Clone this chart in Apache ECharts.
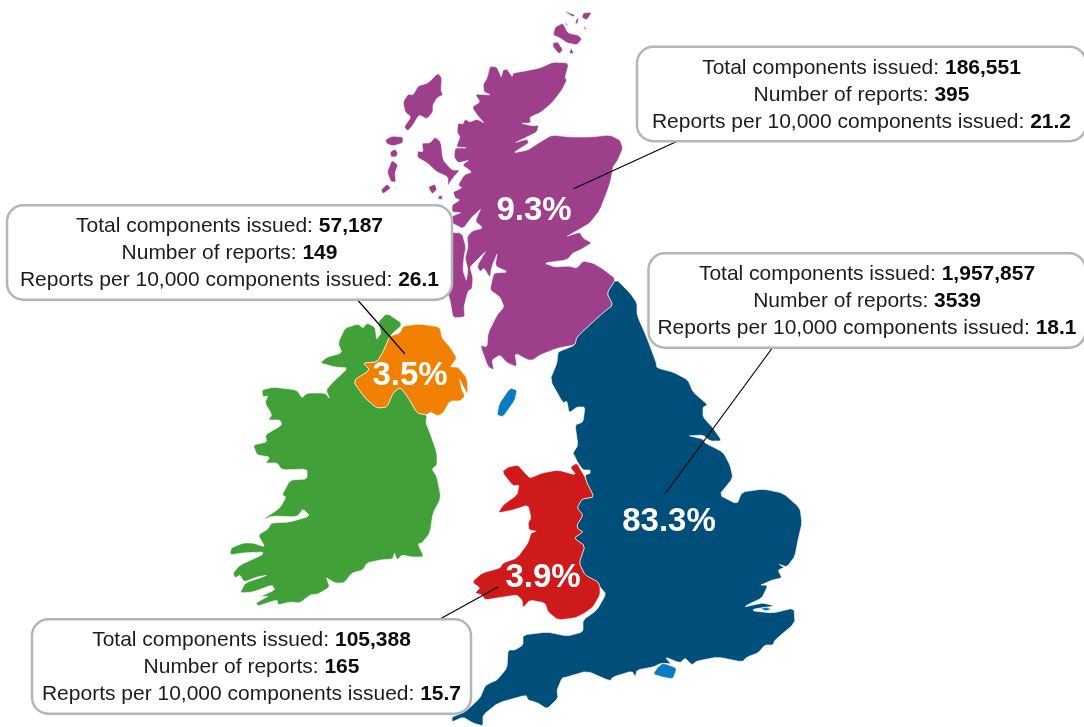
<!DOCTYPE html>
<html><head><meta charset="utf-8">
<style>html,body{margin:0;padding:0;background:#fff}#c{width:1084px;height:727px}</style>
<script src="https://cdn.jsdelivr.net/npm/echarts@6/dist/echarts.min.js"></script></head>
<body><div id="c"></div>
<script>
// ---- values
const nations = ['Scotland','Northern Ireland','England','Wales'];
const shares = [9.3, 3.5, 83.3, 3.9];
const totals = ['186,551','57,187','1,957,857','105,388'];
const reports = ['395','149','3539','165'];
const rates = ['21.2','26.1','18.1','15.7'];
// ---- region colours
const colours = {Scotland:'#9E3F8C','Northern Ireland':'#F18000',England:'#004F7B',Wales:'#CE1A1A',Ireland:'#41A038',Isles:'#0A7AC2'};
// ---- annotation anchors, in the map's coordinates
const shareAnchors = [[534,211],[410,376],[669,522],[543,578]];
const boxAnchors = [[861.5,94],[229.5,252.5],[867,300.5],[251.5,666.5]];
const boxWidths = [446.5,442.5,434.5,436.5];
const leaders = [[[680,140],[573,189]],[[355,297],[405,354]],[[773,347],[665,494]],[[498,587],[440,619]]];
// ---- outlines (map geometry)
const scotlandMain = [[553,62],[540,68],[525,71],[513,73],[512,77],[507,69],[503,70],[501,78],[497,67],[490,66],[487,78],[483,85],[484,92],[491,95],[475,94],[480,102],[472,107],[477,115],[485,124],[477,119],[470,122],[465,119],[463,124],[458,123],[457,132],[460,137],[456,147],[468,148],[455,148],[454,157],[458,163],[470,160],[462,165],[472,172],[464,175],[458,185],[462,188],[453,192],[455,198],[460,200],[452,205],[452,212],[462,213],[452,216],[452,223],[463,229],[472,217],[482,208],[475,221],[483,228],[472,231],[467,237],[468,247],[465,258],[468,270],[466,282],[463,270],[464,257],[466,247],[462,233],[445,232],[445,285],[450,300],[453,318],[465,317],[464,307],[468,291],[472,289],[473,278],[470,267],[475,262],[487,250],[477,266],[480,272],[484,268],[490,278],[492,266],[498,252],[495,266],[508,272],[494,273],[492,280],[490,290],[500,297],[504,307],[497,315],[488,333],[487,347],[480,345],[488,367],[494,370],[492,360],[500,355],[507,363],[517,367],[515,353],[528,360],[533,360],[540,355],[558,348],[575,345],[577,337],[593,322],[603,313],[613,305],[607,293],[616,279],[603,269],[593,263],[583,261],[577,268],[568,266],[555,267],[544,263],[567,260],[573,253],[580,250],[592,243],[583,238],[580,232],[565,237],[580,229],[590,223],[600,210],[607,192],[611,180],[613,167],[618,160],[623,148],[620,140],[610,135],[590,137],[570,137],[552,135],[540,142],[528,150],[513,153],[529,143],[527,139],[514,143],[527,137],[537,132],[539,124],[533,126],[520,123],[531,123],[530,117],[540,113],[552,103],[562,90],[567,80],[565,78],[569,63]];
const scotlandIslands = [
 [[438,73],[442,78],[441,90],[443,95],[437,98],[433,105],[433,112],[427,119],[419,115],[413,125],[408,131],[404,127],[411,117],[405,112],[403,102],[408,94],[413,95],[418,86],[428,83]],
 [[385,140],[392,136],[403,137],[403,143],[393,146],[387,144]],
 [[390,152],[395,149],[398,153],[396,157],[391,157]],
 [[392,160],[398,165],[395,173],[396,182],[391,182],[387,172]],
 [[387,184],[391,188],[383,194],[381,190]],
 [[435,137],[441,142],[443,160],[452,170],[460,170],[453,178],[447,187],[448,177],[437,172],[427,163],[417,157],[418,150],[423,152],[422,143],[430,143]],
 [[428,187],[435,184],[437,190],[432,194]],
 [[439,195],[443,196],[442,200],[438,199]],
 [[555,27],[563,23],[568,33],[578,35],[582,39],[577,45],[567,43],[560,38],[553,35]],
 [[553,42],[558,42],[563,50],[559,54],[553,47]],
 [[572,47],[574,55],[569,53]],
 [[565,11],[575,15],[573,17],[567,13]],
 [[583,13],[592,12],[587,20],[582,18]],
 [[577,18],[579,18],[577,25],[575,23]],
 [[564,22],[568,24],[567,26]],
 [[583,25],[587,29],[585,30]]
];
const ireland = [[403,324],[390,336],[383,352],[377,362],[363,363],[370,370],[353,381],[365,398],[377,408],[387,407],[393,393],[400,387],[408,397],[417,413],[427,415],[426,423],[430,433],[437,453],[437,465],[432,469],[437,477],[441,498],[433,513],[430,533],[422,543],[418,544],[424,557],[412,557],[402,555],[397,560],[394,552],[393,559],[380,560],[367,563],[363,570],[352,573],[344,583],[335,583],[325,577],[330,587],[318,594],[310,595],[300,603],[290,602],[278,605],[277,600],[267,603],[258,606],[256,603],[270,595],[258,597],[275,590],[272,585],[253,592],[240,593],[245,583],[268,575],[257,577],[244,582],[240,575],[235,578],[233,573],[240,565],[262,555],[263,552],[243,553],[230,555],[231,548],[243,543],[253,543],[265,547],[258,535],[268,529],[271,523],[290,522],[310,516],[303,509],[297,517],[273,516],[262,520],[280,508],[286,497],[282,495],[290,480],[307,479],[307,469],[282,470],[277,463],[270,463],[265,463],[270,457],[257,455],[253,445],[267,442],[265,435],[282,425],[280,420],[268,420],[272,415],[265,403],[268,395],[262,397],[262,390],[273,387],[297,390],[302,398],[307,393],[325,393],[330,399],[326,390],[333,382],[348,368],[335,367],[320,363],[327,357],[342,353],[338,343],[345,328],[358,324],[363,328],[367,323],[375,327],[377,341],[381,333],[378,322],[387,313]];
const northernIreland = [[390,336],[400,333],[403,326],[420,324],[440,327],[442,338],[450,347],[457,358],[450,367],[458,367],[467,378],[468,392],[467,394],[463,386],[459,378],[462,390],[465,396],[460,401],[450,401],[443,413],[438,416],[430,412],[427,415],[417,413],[408,397],[400,387],[393,393],[387,407],[377,408],[365,398],[353,381],[370,370],[363,363],[377,362],[383,352]];
const england = [[616,279],[630,293],[637,303],[637,315],[647,338],[656,362],[657,368],[673,372],[688,380],[693,392],[708,405],[703,407],[703,417],[713,428],[722,441],[710,441],[703,435],[687,436],[703,439],[705,443],[723,452],[730,465],[733,478],[719,495],[737,504],[742,492],[763,489],[783,493],[800,508],[802,523],[798,540],[795,556],[787,567],[778,564],[785,568],[778,570],[782,578],[772,580],[759,586],[768,585],[762,598],[747,605],[745,607],[753,605],[763,603],[775,606],[754,609],[753,611],[773,613],[794,608],[795,623],[775,640],[773,645],[765,645],[758,653],[747,657],[742,662],[718,657],[697,661],[692,665],[685,658],[680,663],[665,657],[672,665],[662,663],[653,667],[637,670],[635,678],[632,671],[613,677],[610,681],[587,671],[567,677],[562,678],[557,690],[558,698],[547,709],[538,703],[528,700],[526,695],[498,703],[483,715],[483,726],[473,723],[463,717],[452,722],[452,717],[465,712],[480,698],[485,686],[490,683],[497,680],[507,668],[508,650],[515,650],[523,645],[523,635],[547,632],[567,636],[583,632],[583,620],[597,610],[606,594],[600,587],[598,582],[585,575],[579,563],[585,546],[574,538],[583,532],[578,529],[577,525],[583,515],[577,508],[582,499],[594,497],[587,483],[585,475],[591,473],[590,470],[583,470],[578,463],[574,455],[573,453],[578,445],[575,425],[583,422],[585,407],[577,407],[569,413],[567,401],[563,403],[550,380],[557,363],[558,352],[563,350],[575,345],[577,337],[593,322],[603,313],[613,305],[607,293]];
const wales = [[570,467],[577,463],[582,472],[585,477],[587,483],[594,497],[582,499],[577,508],[583,515],[577,525],[578,529],[583,532],[574,538],[585,546],[579,563],[585,575],[598,582],[600,587],[600,595],[593,607],[585,613],[575,618],[558,620],[548,612],[545,603],[530,600],[523,608],[522,600],[517,595],[503,597],[485,600],[482,595],[475,593],[480,588],[472,582],[482,573],[500,568],[503,563],[517,558],[528,543],[531,533],[537,531],[529,530],[528,523],[531,518],[528,505],[513,510],[498,513],[503,505],[517,495],[519,485],[513,486],[502,472],[508,467],[518,465],[525,473],[530,478],[542,473],[558,470],[576,475]];
const isles = [
 [[497,415],[499,404],[510,388],[517,390],[515,400],[503,417]],
 [[653,674],[658,667],[663,663],[677,668],[673,679],[662,677]],
 [[760,608],[767,607],[772,610],[765,611]]
];
// soften the traced corners slightly so the coastlines read as curves
const soften = ring => ring.flatMap((p,i)=>{
  const a = ring[(i+ring.length-1)%ring.length], b = ring[(i+1)%ring.length], k = 0.15;
  return [[p[0]+(a[0]-p[0])*k,p[1]+(a[1]-p[1])*k],[p[0]+(b[0]-p[0])*k,p[1]+(b[1]-p[1])*k]];
});
const feature = (name, rings) => ({type:'Feature',properties:{name},geometry:{type:'MultiPolygon',coordinates:rings.map(r=>[soften(r)])}});
echarts.registerMap('isles',{type:'FeatureCollection',features:[
  feature('Ireland',[ireland]),
  feature('Scotland',[scotlandMain,...scotlandIslands]),
  feature('England',[england]),
  feature('Wales',[wales]),
  feature('Northern Ireland',[northernIreland]),
  feature('Isles',isles)
]});
const font = '"Liberation Sans", Arial, sans-serif';
const chart = echarts.init(document.getElementById('c'),null,{renderer:'canvas'});
chart.setOption({
  animation:false,
  backgroundColor:'#fff',
  geo:{
    map:'isles',left:0,top:0,width:1084,height:727,aspectScale:1,roam:false,silent:true,
    projection:{project:p=>p,unproject:p=>p},
    boundingCoords:[[0,0],[1084,727]],
    label:{show:false},
    itemStyle:{borderColor:'#ffffff',borderWidth:0.6},
    emphasis:{disabled:true},
    regions:Object.keys(colours).map(n=>({name:n,itemStyle:{areaColor:colours[n]}}))
  },
  series:[
    {type:'lines',coordinateSystem:'geo',z:3,silent:true,polyline:false,
     lineStyle:{color:'#000',width:1.2,opacity:1,curveness:0},symbol:'none',
     data:nations.map((n,i)=>({name:n,coords:leaders[i]}))},
    {type:'scatter',coordinateSystem:'geo',z:4,silent:true,symbolSize:1,itemStyle:{color:'transparent',opacity:1},
     label:{show:true,position:'inside',color:'#fff',fontFamily:font,fontWeight:'bold',fontSize:33,
            formatter:p=>p.value[2].toFixed(1)+'%'},
     data:nations.map((n,i)=>({name:n,value:[...shareAnchors[i],shares[i]]}))},
    {type:'scatter',coordinateSystem:'geo',z:5,silent:true,symbolSize:1,itemStyle:{color:'transparent',opacity:1},
     data:nations.map((n,i)=>({name:n,value:boxAnchors[i],
       label:{show:true,position:'inside',width:boxWidths[i],height:81,padding:[6.5,0,4.5,0],align:'center',verticalAlign:'middle',
         backgroundColor:'#fff',borderColor:'#b5b5b5',borderWidth:2.5,borderRadius:15,
         formatter:`{n|Total components issued: }{b|${totals[i]}}\n{n|Number of reports: }{b|${reports[i]}}\n{n|Reports per 10,000 components issued: }{b|${rates[i]}}`,
         rich:{n:{fontFamily:font,fontSize:21,color:'#1c1c1c',lineHeight:27},
               b:{fontFamily:font,fontSize:21,fontWeight:'bold',color:'#0c0c0c',lineHeight:27}}}}))}
  ]
});
</script></body></html>
